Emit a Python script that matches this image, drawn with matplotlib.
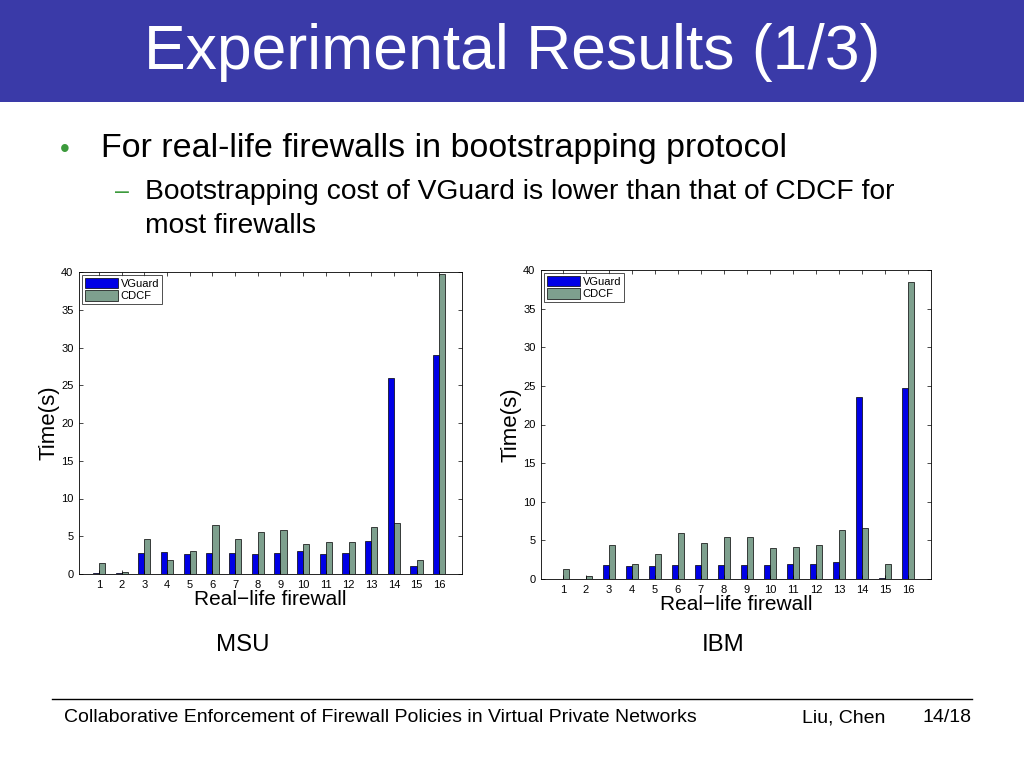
import matplotlib
matplotlib.use('Agg')
import matplotlib.pyplot as plt
import numpy as np
from matplotlib.patches import Rectangle
from matplotlib.lines import Line2D

plt.rcParams['font.family'] = ['Liberation Sans', 'DejaVu Sans']

# data
firewalls = list(range(1, 17))
msu_vguard = [0.1, 0.1, 2.8, 2.9, 2.7, 2.8, 2.8, 2.7, 2.8, 3.0, 2.7, 2.8, 4.4, 26.0, 1.1, 29.0]
msu_cdcf = [1.5, 0.2, 4.6, 1.9, 3.0, 6.5, 4.6, 5.5, 5.8, 4.0, 4.3, 4.3, 6.2, 6.8, 1.8, 39.8]
ibm_vguard = [0.05, 0.05, 1.8, 1.7, 1.7, 1.8, 1.8, 1.8, 1.8, 1.8, 1.9, 2.0, 2.2, 23.6, 0.1, 24.7]
ibm_cdcf = [1.3, 0.4, 4.4, 1.9, 3.2, 6.0, 4.7, 5.4, 5.4, 4.0, 4.1, 4.4, 6.3, 6.6, 1.9, 38.4]
series_names = ['VGuard', 'CDCF']
yticks = [0, 5, 10, 15, 20, 25, 30, 35, 40]

W, H = 1024, 768
BLUE = '#0000e6'
GREEN = '#7ea08e'
HEADER = '#3a3aa8'

fig = plt.figure(figsize=(W / 100, H / 100), dpi=100)


def px(x0, y0, x1, y1):
    # pixel box (top-left origin) -> figure fraction rect
    return [x0 / W, 1 - y1 / H, (x1 - x0) / W, (y1 - y0) / H]


# header band
fig.patches.append(Rectangle((0, 1 - 102 / H), 1, 102 / H, transform=fig.transFigure,
                             facecolor=HEADER, edgecolor='none', zorder=0))
fig.text(512 / W, 1 - 53 / H, 'Experimental Results (1/3)', color='white',
         fontsize=45, ha='center', va='center')

# bullets
fig.text(65 / W, 1 - 150 / H, '•', color='#3c9a3c', fontsize=20, ha='center', va='center')
fig.text(101 / W, 1 - 149 / H, 'For real-life firewalls in bootstrapping protocol',
         fontsize=24.5, ha='left', va='center')
fig.text(122 / W, 1 - 192 / H, '–', color='#3c9a3c', fontsize=18, ha='center', va='center')
fig.text(145 / W, 1 - 192 / H, 'Bootstrapping cost of VGuard is lower than that of CDCF for',
         fontsize=20.3, ha='left', va='center')
fig.text(145 / W, 1 - 226 / H, 'most firewalls', fontsize=20.3, ha='left', va='center')


def bar_chart(rect, vguard, cdcf, xlim):
    ax = fig.add_axes(rect)
    x = np.array(firewalls)
    w = 0.27
    ax.bar(x - w / 2, vguard, w, color=BLUE, edgecolor='black', linewidth=0.5, label=series_names[0])
    ax.bar(x + w / 2, cdcf, w, color=GREEN, edgecolor='black', linewidth=0.5, label=series_names[1])
    ax.set_xlim(*xlim)
    ax.set_ylim(0, 40)
    ax.set_xticks(x)
    ax.set_yticks(yticks)
    ax.tick_params(direction='in', top=True, right=True, labelsize=8, length=3, width=0.5, pad=4)
    for s in ax.spines.values():
        s.set_linewidth(0.6)
    ax.set_xlabel('Real\u2212life firewall', fontsize=15, labelpad=0)
    ax.set_ylabel('Time(s)', fontsize=16, labelpad=1)
    leg = ax.legend(loc='upper left', fontsize=8, frameon=True, fancybox=False,
                    edgecolor='black', borderpad=0.25, handlelength=3.0, handleheight=1.1,
                    labelspacing=0.15, borderaxespad=0.25, handletextpad=0.25)
    leg.get_frame().set_linewidth(0.6)
    return ax


bar_chart(px(79, 272, 462, 574), msu_vguard, msu_cdcf, (0.12, 17))
bar_chart(px(541, 270, 931, 579), ibm_vguard, ibm_cdcf, (0.05, 17))

fig.text(243 / W, 1 - 645 / H, 'MSU', fontsize=17.3, ha='center', va='center')
fig.text(723 / W, 1 - 645 / H, 'IBM', fontsize=17.3, ha='center', va='center')

# footer
fig.add_artist(Line2D([52 / W, 972 / W], [1 - 699 / H, 1 - 699 / H], color='black',
                      linewidth=1, transform=fig.transFigure))
fig.text(64 / W, 1 - 718 / H, 'Collaborative Enforcement of Firewall Policies in Virtual Private Networks',
         fontsize=14, ha='left', va='center')
fig.text(885 / W, 1 - 718 / H, 'Liu, Chen', fontsize=14, ha='right', va='center')
fig.text(972 / W, 1 - 718 / H, '14/18', fontsize=14, ha='right', va='center')

fig.savefig('out.png', dpi=100)
